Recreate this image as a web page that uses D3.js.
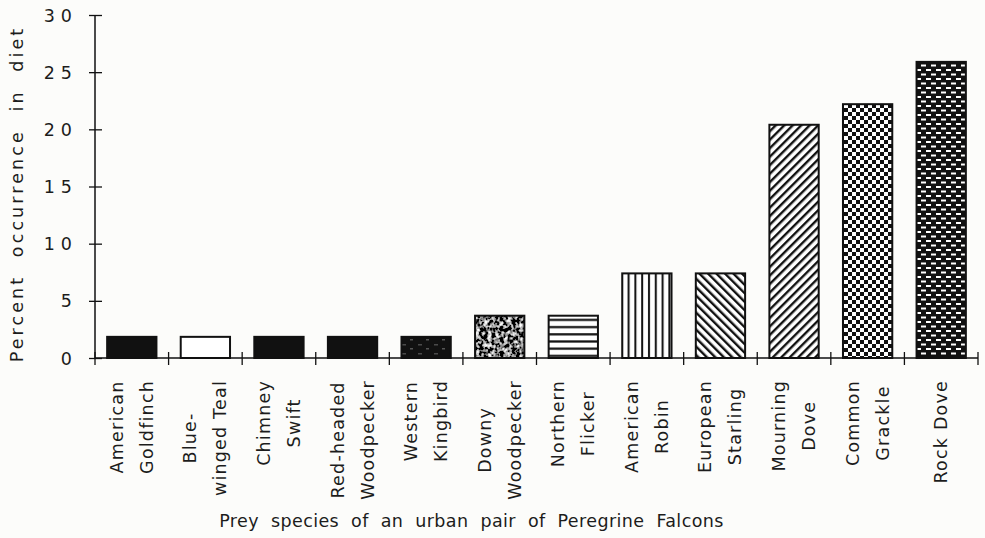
<!DOCTYPE html>
<html>
<head>
<meta charset="utf-8">
<script src="https://cdn.jsdelivr.net/npm/d3@7"></script>
<style>
  html, body { margin: 0; padding: 0; background: #fcfcfa; }
  svg { display: block; }
  text { font-family: "DejaVu Sans", sans-serif; fill: #1c1c1c; }
</style>
</head>
<body>
<svg id="chart" width="985" height="538"></svg>
<script>
// prey species, shown as one or two label lines under the bars
var species = ["American Goldfinch", "Blue-winged Teal", "Chimney Swift", "Red-headed Woodpecker",
               "Western Kingbird", "Downy Woodpecker", "Northern Flicker", "American Robin",
               "European Starling", "Mourning Dove", "Common Grackle", "Rock Dove"]
var labelLines = [["American", "Goldfinch"], ["Blue-", "winged Teal"], ["Chimney", "Swift"],
                  ["Red-headed", "Woodpecker"], ["Western", "Kingbird"], ["Downy", "Woodpecker"],
                  ["Northern", "Flicker"], ["American", "Robin"], ["European", "Starling"],
                  ["Mourning", "Dove"], ["Common", "Grackle"], ["Rock Dove"]]
// percent occurrence in diet
var percent = [1.85, 1.85, 1.85, 1.85, 1.85, 3.7, 3.7, 7.4, 7.4, 20.4, 22.2, 25.9]
var yTicks = [0, 5, 10, 15, 20, 25, 30]

// fill style of each bar (same order as species)
var barFills = ["black", "white", "black", "black", "kingbird", "mottled",
                "hstripe", "vstripe", "bdiag", "fdiag", "checker", "brick"]

var svg = d3.select("#chart")

// plot edges (note: "top" is a reserved window property, so use other names)
var plotLeft = 95, plotRight = 978, plotTop = 15, plotBottom = 358

var x = d3.scaleBand()
    .domain(species)
    .range([plotLeft, plotRight])
    .paddingInner(0.33)
    .paddingOuter(0.165)

var y = d3.scaleLinear()
    .domain([0, 30])
    .range([plotBottom, plotTop])

// ---- patterns
var defs = svg.append("defs")

var p = defs.append("pattern").attr("id", "hstripe")
    .attr("patternUnits", "userSpaceOnUse").attr("width", 8).attr("height", 7.2)
p.append("rect").attr("width", 8).attr("height", 7.2).attr("fill", "#fff")
p.append("rect").attr("y", 2).attr("width", 8).attr("height", 2.2).attr("fill", "#111")

p = defs.append("pattern").attr("id", "vstripe")
    .attr("patternUnits", "userSpaceOnUse").attr("width", 6.8).attr("height", 8)
p.append("rect").attr("width", 6.8).attr("height", 8).attr("fill", "#fff")
p.append("rect").attr("x", 2).attr("width", 2).attr("height", 8).attr("fill", "#111")

p = defs.append("pattern").attr("id", "bdiag")
    .attr("patternUnits", "userSpaceOnUse").attr("width", 6).attr("height", 6)
    .attr("patternTransform", "rotate(-45)")
p.append("rect").attr("width", 6).attr("height", 6).attr("fill", "#fff")
p.append("rect").attr("width", 2.4).attr("height", 6).attr("fill", "#111")

p = defs.append("pattern").attr("id", "fdiag")
    .attr("patternUnits", "userSpaceOnUse").attr("width", 6).attr("height", 6)
    .attr("patternTransform", "rotate(45)")
p.append("rect").attr("width", 6).attr("height", 6).attr("fill", "#fff")
p.append("rect").attr("width", 2.4).attr("height", 6).attr("fill", "#111")

p = defs.append("pattern").attr("id", "checker")
    .attr("patternUnits", "userSpaceOnUse").attr("width", 8).attr("height", 8)
p.append("rect").attr("width", 8).attr("height", 8).attr("fill", "#fff")
p.append("rect").attr("width", 4).attr("height", 4).attr("fill", "#111")
p.append("rect").attr("x", 4).attr("y", 4).attr("width", 4).attr("height", 4).attr("fill", "#111")

p = defs.append("pattern").attr("id", "brick")
    .attr("patternUnits", "userSpaceOnUse").attr("width", 10).attr("height", 9)
p.append("rect").attr("width", 10).attr("height", 9).attr("fill", "#111")
p.append("rect").attr("x", 1).attr("y", 1.5).attr("width", 5).attr("height", 2).attr("fill", "#fff")
p.append("rect").attr("x", 6).attr("y", 6).attr("width", 5).attr("height", 2).attr("fill", "#fff")
p.append("rect").attr("x", -4).attr("y", 6).attr("width", 5).attr("height", 2).attr("fill", "#fff")

p = defs.append("pattern").attr("id", "kingbird")
    .attr("patternUnits", "userSpaceOnUse").attr("width", 16).attr("height", 9)
p.append("rect").attr("width", 16).attr("height", 9).attr("fill", "#111")
p.append("rect").attr("x", 2).attr("y", 2).attr("width", 4).attr("height", 1.5).attr("fill", "#4a4a4a")
p.append("rect").attr("x", 10).attr("y", 6).attr("width", 3).attr("height", 1.5).attr("fill", "#555")

// grey mottled texture for the Downy Woodpecker bar
var f = defs.append("filter").attr("id", "mottled")
    .attr("x", 0).attr("y", 0).attr("width", 1).attr("height", 1)
f.append("feTurbulence").attr("type", "fractalNoise")
    .attr("baseFrequency", 0.25).attr("numOctaves", 2).attr("seed", 4)
f.append("feColorMatrix").attr("type", "matrix")
    .attr("values", "3 0 0 0 -1.3  3 0 0 0 -1.3  3 0 0 0 -1.3  0 0 0 0 1")
f.append("feComposite").attr("in2", "SourceGraphic").attr("operator", "in")

function fillOf(i) {
  var k = barFills[i]
  if (k == "black") return "#111"
  if (k == "white") return "#fff"
  if (k == "mottled") return "#000"
  return "url(#" + k + ")"
}

// ---- bars
svg.append("g").selectAll("rect")
    .data(percent)
    .join("rect")
    .attr("x", function(d, i) { return x(species[i]) })
    .attr("y", function(d) { return y(d) })
    .attr("width", x.bandwidth())
    .attr("height", function(d) { return y(0) - y(d) })
    .attr("fill", function(d, i) { return fillOf(i) })
    .attr("filter", function(d, i) { return barFills[i] == "mottled" ? "url(#mottled)" : null })

svg.append("g").selectAll("rect")
    .data(percent)
    .join("rect")
    .attr("x", function(d, i) { return x(species[i]) })
    .attr("y", function(d) { return y(d) })
    .attr("width", x.bandwidth())
    .attr("height", function(d) { return y(0) - y(d) })
    .attr("fill", "none")
    .attr("stroke", "#111")
    .attr("stroke-width", 2)

// ---- y axis
var yAxis = svg.append("g")
    .attr("transform", "translate(" + plotLeft + ",0)")
    .call(d3.axisLeft(y).tickValues(yTicks).tickSize(6).tickPadding(0))
yAxis.attr("font-family", null).attr("font-size", null)
yAxis.select(".domain").attr("d", "M0," + plotTop + "V" + plotBottom).attr("stroke", "#111").attr("stroke-width", 1.5)
yAxis.selectAll(".tick line").attr("x1", -6).attr("x2", 7).attr("stroke", "#111").attr("stroke-width", 1.3)
yAxis.selectAll(".tick text")
    .attr("x", -17)
    .attr("dy", "0.35em")
    .style("font-size", "17.5px")
    .style("letter-spacing", "6px")
    .attr("fill", "#1c1c1c")

// ---- x axis with crossing ticks on the band edges
var step = x.step()
var edges = d3.range(species.length + 1).map(function(i) { return plotLeft + i * step })
svg.append("line")
    .attr("x1", plotLeft).attr("x2", plotRight)
    .attr("y1", plotBottom).attr("y2", plotBottom)
    .attr("stroke", "#111").attr("stroke-width", 1.5)
svg.append("g").selectAll("line")
    .data(edges)
    .join("line")
    .attr("x1", function(d) { return d }).attr("x2", function(d) { return d })
    .attr("y1", plotBottom - 6).attr("y2", plotBottom + 7)
    .attr("stroke", "#111").attr("stroke-width", 1.3)

// ---- category labels, rotated, lines centred on the longest line
var labelTop = 380
var lab = svg.append("g").selectAll("g")
    .data(labelLines)
    .join("g")
    .attr("transform", function(d, i) {
      return "translate(" + (x(species[i]) + x.bandwidth() / 2) + "," + labelTop + ") rotate(-90)"
    })

lab.each(function(lines) {
  var g = d3.select(this)
  var n = lines.length
  var texts = lines.map(function(s, j) {
    return g.append("text")
        .attr("y", 6 + (j - (n - 1) / 2) * 30)
        .attr("text-anchor", "middle")
        .style("font-size", "17.5px")
        .style("letter-spacing", "1.2px")
        .text(s)
  })
  var maxLen = d3.max(texts, function(t) { return t.node().getComputedTextLength() })
  texts.forEach(function(t) { t.attr("x", -maxLen / 2) })
})

// ---- axis titles
svg.append("text")
    .attr("transform", "translate(23,194) rotate(-90)")
    .attr("text-anchor", "middle")
    .style("font-size", "17.5px")
    .style("letter-spacing", "3.1px")
    .style("word-spacing", "9px")
    .text("Percent occurrence in diet")

svg.append("text")
    .attr("x", (225 + 718) / 2)
    .attr("y", 527)
    .attr("text-anchor", "middle")
    .style("font-size", "17.5px")
    .style("letter-spacing", "0.4px")
    .style("word-spacing", "6px")
    .text("Prey species of an urban pair of Peregrine Falcons")
</script>
</body>
</html>
